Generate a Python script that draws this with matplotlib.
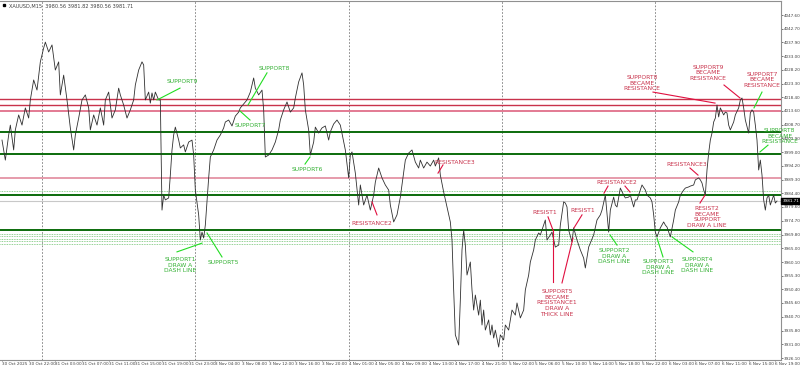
import matplotlib
matplotlib.use("Agg")
import matplotlib.pyplot as plt

# ---------------- data ----------------
bars = [0, 1, 2, 4, 5, 7, 8, 10, 12, 14, 16, 17, 19, 21, 23, 25, 26, 28, 30, 32, 34, 35, 37, 39, 41, 43, 44, 46, 48, 50,
        52, 53, 55, 57, 59, 61, 62, 64, 66, 68, 70, 71, 73, 75, 77, 79, 80, 82, 84, 85, 86, 88, 89, 90, 91, 92, 94,
        95, 96, 97, 98, 100, 101, 102, 103, 104, 106, 107, 109, 110, 112, 114, 115, 116, 118, 119, 120, 121, 122,
        124, 125, 127, 129, 131, 133, 134, 136, 138, 140, 142, 143, 145, 147, 149, 151, 152, 154, 156, 157, 158,
        160, 162, 164, 166, 167, 169, 171, 173, 175, 176, 178, 180, 181, 182, 184, 185, 187, 188, 190, 192, 194,
        196, 197, 199, 201, 203, 205, 206, 208, 209, 210, 212, 214, 215, 217, 219, 221, 223, 224, 226, 228, 230,
        232, 233, 235, 237, 239, 241, 242, 244, 246, 248, 250, 251, 253, 255, 257, 259, 260, 262, 263, 265, 267,
        269, 270, 271, 272, 274, 275, 276, 277, 278, 279, 281, 282, 283, 284, 286, 287, 288, 289, 290, 292, 293,
        294, 295, 296, 298, 299, 301, 302, 304, 306, 308, 309, 311, 313, 314, 316, 317, 319, 320, 322, 323, 325,
        326, 327, 329, 330, 332, 334, 335, 337, 338, 339, 340, 342, 343, 345, 347, 349, 350, 352, 353, 355, 357,
        359, 360, 362, 364, 365, 367, 368, 369, 371, 373, 374, 376, 377, 379, 380, 381, 383, 384, 386, 387, 389,
        390, 391, 392, 393, 395, 397, 398, 399, 400, 401, 403, 404, 406, 407, 409, 410, 412, 413, 415, 416, 418,
        419, 420, 421, 422, 423, 424, 425, 426, 427, 428, 429, 430, 431, 433, 434, 435, 436, 437, 438, 439, 440,
        442, 443, 444, 445, 446, 448, 449, 450, 451, 452, 453, 454, 455, 456, 457, 458, 459, 460, 461, 463, 464, 465]
closes = [4003.3, 3999.8, 3996.2, 4005.1, 4008.6, 3999.8, 4006.9, 4012.2, 4008.6, 4014.7, 4011.1, 4017.5, 4024.6,
          4021.0, 4031.0, 4035.9, 4038.0, 4034.5, 4037.0, 4028.1, 4031.0, 4019.3, 4026.3, 4017.5, 4007.6, 3999.8,
          4005.1, 4011.1, 4017.5, 4019.3, 4014.7, 4006.9, 4012.2, 4008.6, 4014.7, 4008.6, 4017.5, 4020.3, 4011.1,
          4014.0, 4021.7, 4019.3, 4015.7, 4011.1, 4014.0, 4017.5, 4022.8, 4028.1, 4031.0, 4029.9, 4017.5, 4020.3,
          4016.4, 4020.0, 4017.5, 4020.3, 4017.5,
          4017.5, 3978.5, 3983.8, 3982.1, 3982.8, 3990.9, 3999.8, 4005.1, 4007.9, 4003.3, 4000.5, 4001.6, 3999.1,
          4002.6, 4003.3, 3998.0, 3985.6, 3976.8, 3967.9, 3970.7, 3968.6, 3973.2,
          3989.9, 3997.3, 3999.8, 4003.3, 4005.1, 4007.6, 4009.7, 4010.4, 4008.3, 4011.8, 4013.2, 4014.7, 4016.1,
          4017.5, 4020.3, 4025.3, 4021.7, 4019.3, 4021.0, 4014.0, 3997.3,
          3998.0, 3999.8, 4002.6, 4006.9, 4010.4, 4014.0, 4016.8, 4013.2, 4014.7, 4018.2, 4023.9, 4027.1, 4022.8,
          4014.0, 4006.9, 3998.0, 4002.6, 4007.9, 4005.8, 4007.6, 4008.3,
          4003.3, 4006.2, 4009.0, 4010.4, 4008.6, 4002.6, 3999.8, 3989.9, 3998.0, 3999.1, 3991.6, 3980.3, 3987.4,
          3980.3, 3983.8, 3978.5, 3983.8, 3988.4, 3993.4, 3989.9, 3987.4,
          3985.6, 3980.3, 3974.3, 3976.8, 3983.1, 3992.0, 3996.2, 3998.7, 3999.8, 3995.5, 3993.4, 3996.2, 3993.4,
          3995.5, 3994.1, 3996.2, 3994.1, 3997.0, 3990.9, 3984.9, 3979.6,
          3974.3, 3967.9, 3950.2, 3934.3, 3930.7, 3946.6, 3964.4, 3971.4, 3966.1, 3955.5, 3960.1, 3950.2, 3943.1,
          3948.4, 3941.3, 3946.6, 3937.8, 3943.1, 3936.0, 3939.6, 3934.3,
          3937.8, 3933.2, 3936.0, 3930.0, 3934.3, 3932.5, 3937.8, 3936.0, 3943.1, 3941.3, 3945.6, 3940.3, 3943.1,
          3950.2, 3955.5, 3960.1, 3964.4, 3967.9, 3970.4, 3969.7, 3973.2,
          3975.0, 3967.9, 3969.7, 3970.7, 3965.4, 3966.1, 3973.2, 3981.4, 3981.0, 3979.6, 3971.4, 3967.2, 3972.2,
          3967.9, 3964.4, 3961.5, 3958.0, 3965.4, 3966.8, 3969.7, 3975.0,
          3976.8, 3978.5, 3983.8, 3970.7, 3978.5, 3983.1, 3980.3, 3979.6, 3986.3, 3983.8, 3982.8, 3983.1, 3983.8,
          3979.6, 3982.1, 3982.1, 3985.6, 3987.4, 3985.6, 3983.8, 3982.8,
          3981.4, 3976.8, 3970.7, 3969.0, 3972.2, 3974.3, 3973.2, 3972.5, 3970.7, 3969.0, 3975.0, 3978.5, 3981.4,
          3983.8, 3985.6, 3986.3, 3986.7, 3987.0, 3987.4, 3989.2, 3989.9,
          3989.2, 3988.1, 3985.6, 3983.8, 3992.7, 3998.7, 4003.3, 4005.8, 4009.7, 4011.1, 4015.7, 4011.5, 4014.7,
          4012.2, 4013.2, 4012.9, 4008.6, 4006.9, 4008.3, 4009.7, 4012.2,
          4014.7, 4017.5, 4018.2, 4014.7, 4010.4, 4005.8, 4012.9, 4014.0, 4013.2, 4008.6, 4003.3, 3992.7, 3996.2,
          3990.9, 3982.1, 3978.5, 3982.8, 3983.8, 3980.3, 3983.8, 3981.0, 3981.71]

resistance_levels = [4017.8, 4015.8]
resistance_light = [4013.6]
resistance_pink = [3989.8]
support_levels = [4006.2, 3998.3, 3983.9, 3971.4]
support_dotted = [3985.4, 3970.2, 3969.3, 3968.4, 3967.5, 3966.6]
current_price = 3981.71
day_separators = [24, 116, 208, 300, 392]

ytick_labels = ["4047.60", "4042.70", "4037.90", "4033.00", "4028.20", "4023.30", "4018.40", "4013.60",
                "4008.70", "4003.90", "3999.00", "3994.20", "3989.30", "3984.40", "3979.60", "3974.70",
                "3969.80", "3965.00", "3960.10", "3955.30", "3950.40", "3945.60", "3940.70", "3935.80",
                "3931.00", "3926.10"]
xtick_labels = ["30 Oct 2025", "30 Oct 22:00", "31 Oct 03:00", "31 Oct 07:00", "31 Oct 11:00", "31 Oct 15:00",
                "31 Oct 19:00", "31 Oct 23:00", "3 Nov 04:00", "3 Nov 08:00", "3 Nov 12:00", "3 Nov 16:00",
                "3 Nov 20:00", "4 Nov 01:00", "4 Nov 05:00", "4 Nov 09:00", "4 Nov 13:00", "4 Nov 17:00",
                "4 Nov 21:00", "5 Nov 02:00", "5 Nov 06:00", "5 Nov 10:00", "5 Nov 14:00", "5 Nov 18:00",
                "5 Nov 22:00", "6 Nov 03:00", "6 Nov 07:00", "6 Nov 11:00", "6 Nov 15:00", "6 Nov 19:00"]
xtick_step = 16

# ---------------- figure ----------------
plt.rcParams['font.family'] = ['DejaVu Sans']
fig = plt.figure(figsize=(8, 3.7), dpi=100)
ax = fig.add_axes([0.0, 10 / 370, 781 / 800, 359 / 370])
ax.set_xlim(-1.2, 467.4)
ax.set_ylim(3925.4, 4052.56)

GREEN_TXT = '#33b033'
GREEN_LN = '#22dd22'
RED_TXT = '#c8324b'
RED_LN = '#e01040'

# horizontal levels
for lv in resistance_levels:
    ax.axhline(lv, color='#c8324b', lw=1.0, zorder=2)
for lv in resistance_light:
    ax.axhline(lv, color='#e0708a', lw=1.3, zorder=2)
for lv in resistance_pink:
    ax.axhline(lv, color='#e493a5', lw=1.3, zorder=2)
for lv in support_levels:
    ax.axhline(lv, color='#0b6b0b', lw=1.4, zorder=2)
for lv in support_dotted:
    ax.axhline(lv, color='#6fc26f', lw=0.6, ls=(0, (1, 1)), zorder=2)
ax.axhline(current_price, color='#c8c8c8', lw=0.8, zorder=1)

for d in day_separators:
    ax.axvline(d, color='#777777', lw=0.6, ls=(0, (2, 2)), zorder=1)

# price line
ax.plot(bars, closes, color='#303030', lw=0.6, zorder=3)

# annotations: (text, color, text_xy, [(line_from, line_to, line_color), ...])
notes = [
    ("SUPPORT9", GREEN_TXT, (108, 4023.9), [((106.8, 4021.7), (93, 4017.5), GREEN_LN)]),
    ("SUPPORT8", GREEN_TXT, (163.2, 4028.5), [((159, 4027.1), (147.6, 4015.7), GREEN_LN)]),
    ("SUPPORT7", GREEN_TXT, (148.8, 4008.6), [((148.8, 4010.4), (142.8, 4013.6), GREEN_LN)]),
    ("SUPPORT6", GREEN_TXT, (183, 3992.7), [((181.8, 3994.8), (184.8, 3997.3), GREEN_LN)]),
    ("SUPPORT1\nDRAW A\nDASH LINE", GREEN_TXT, (106.8, 3959.0), [((105, 3963.7), (120, 3966.8), GREEN_LN)]),
    ("SUPPORT5", GREEN_TXT, (132.6, 3960.1), [((132, 3961.9), (123, 3970.4), GREEN_LN)]),
    ("SUPPORT2\nDRAW A\nDASH LINE", GREEN_TXT, (367.2, 3962.2), [((369, 3966.1), (364.8, 3969.7), GREEN_LN)]),
    ("SUPPORT3\nDRAW A\nDASH LINE", GREEN_TXT, (393.6, 3958.3), [((396.6, 3961.9), (393, 3968.6), GREEN_LN)]),
    ("SUPPORT4\nDRAW A\nDASH LINE", GREEN_TXT, (417, 3959.0), [((414.6, 3963.7), (402, 3969.0), GREEN_LN)]),
    ("SUPPORT8\nBECAME\nRESISTANCE", GREEN_TXT, (466.5, 4004.7), [((459.6, 4001.5), (454.8, 3999.1), GREEN_LN)]),
    ("RESISTANCE2", RED_TXT, (222, 3973.9), [((225, 3976.8), (222, 3981.4), RED_LN)]),
    ("RESISTANCE3", RED_TXT, (271.8, 3995.5), [((264.6, 3994.5), (261.6, 3991.6), RED_LN)]),
    ("RESIST1", RED_TXT, (325.8, 3977.8), [((327.6, 3976.1), (330.6, 3971.4), RED_LN)]),
    ("RESIST1", RED_TXT, (348.6, 3978.5), [((348, 3976.8), (343.2, 3972.2), RED_LN)]),
    ("SUPPORT5\nBECAME\nRESISTANCE1\nDRAW A\nTHICK LINE", RED_TXT, (333, 3945.6),
     [((330.6, 3953.0), (330.6, 3971.4), RED_LN), ((336, 3952.7), (342.6, 3968.6), RED_LN)]),
    ("RESISTANCE2", RED_TXT, (369, 3988.4),
     [((363.6, 3987.0), (361.2, 3984.5), RED_LN), ((373.8, 3987.0), (376.8, 3984.9), RED_LN)]),
    ("RESIST2\nBECAME\nSUPPORT\nDRAW A LINE", RED_TXT, (423, 3976.0), [((418.8, 3981.0), (421.8, 3983.8), RED_LN)]),
    ("RESISTANCE3", RED_TXT, (411, 3994.8), [((412.8, 3993.4), (417.6, 3990.9), RED_LN)]),
    ("SUPPORT8\nBECAME\nRESISTANCE", RED_TXT, (384, 4023.5), [((390.6, 4020.3), (427.8, 4016.4), RED_LN)]),
    ("SUPPORT9\nBECAME\nRESISTANCE", RED_TXT, (423.6, 4027.1), [((433.2, 4022.8), (442.8, 4018.2), RED_LN)]),
    ("SUPPORT7\nBECAME\nRESISTANCE", RED_TXT, (456, 4024.6), [((456, 4020.3), (451.2, 4014.7), GREEN_LN)]),
]
for txt, col, (tx, ty), segs in notes:
    ax.text(tx, ty, txt, color=col, fontsize=4.3, ha='center', va='center', linespacing=1.15,
            zorder=5, clip_on=False)
    for (x0, y0), (x1, y1), lc in segs:
        ax.plot([x0, x1], [y0, y1], color=lc, lw=0.8, zorder=4)

# axes styling
ax.spines['left'].set_visible(False)
for s in ['top', 'right', 'bottom']:
    ax.spines[s].set_color('#909090')
    ax.spines[s].set_linewidth(0.8)

ax.yaxis.tick_right()
ax.set_yticks([float(v) for v in ytick_labels])
ax.set_yticklabels(ytick_labels)
ax.tick_params(axis='y', labelsize=3.0, length=1.2, width=0.5, pad=0.6, colors='#404040')

ax.set_xticks([i * xtick_step for i in range(len(xtick_labels))])
ax.set_xticklabels(xtick_labels)
ax.tick_params(axis='x', labelsize=3.0, length=1.0, width=0.5, pad=0.4, colors='#404040')
for lbl in ax.get_xticklabels():
    lbl.set_ha('left')

# current price box
ax.annotate(f"{current_price:.2f}", xy=(1.0, current_price), xycoords=('axes fraction', 'data'),
            xytext=(1.0, 0), textcoords='offset points', fontsize=3.0, color='white', va='center', ha='left',
            bbox=dict(boxstyle='square,pad=0.25', fc='black', ec='black'), zorder=10, annotation_clip=False)

# title
ax.text(0.012, 0.993, "XAUUSD,M15  3980.56 3981.82 3980.56 3981.71", transform=ax.transAxes,
        fontsize=3.6, color='#404040', ha='left', va='top')
ax.plot([0.005], [0.988], marker='s', ms=2, color='black', transform=ax.transAxes, clip_on=False)

fig.savefig("out.png", dpi=100, facecolor='white')
